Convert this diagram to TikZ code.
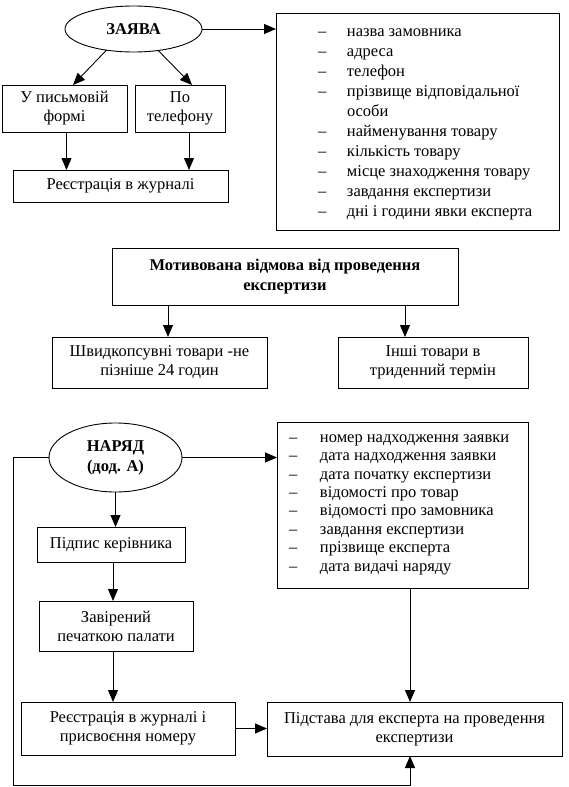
\documentclass[tikz,border=0pt]{standalone}
\usepackage{fontspec}
\setmainfont{Liberation Serif}
\usetikzlibrary{shapes.geometric,arrows.meta,calc}
\begin{document}
\begin{tikzpicture}[x=1pt,y=-1pt,
  every node/.style={inner sep=0pt, outer sep=0pt},
  bx/.style={draw, line width=0.9pt, rectangle, align=center, font=\fontsize{16.5}{19}\selectfont},
  el/.style={draw, line width=0.9pt, ellipse, align=center, font=\fontsize{16.5}{20}\selectfont\bfseries},
  arr/.style={line width=0.9pt, -{Triangle[length=12pt,width=10pt]}},
  lst/.style={anchor=west, align=left},
  ]
\useasboundingbox (0,0) rectangle (568,787);

% ---- top block
\node[el, minimum width=137pt, minimum height=46pt] (zayava) at (133.5,29) {ЗАЯВА};
\node[bx, minimum width=125pt, minimum height=47pt] (pys) at (64.5,108.5) {У письмовій\\формі};
\node[bx, minimum width=90pt, minimum height=47pt] (tel) at (180,108.5) {По\\телефону};
\node[bx, minimum width=215pt, minimum height=32pt] (reg1) at (120.5,186) {Реєстрація в журналі};
\node[bx, minimum width=283pt, minimum height=217pt] (lst1) at (417.5,121.5) {};
\node[lst, font=\fontsize{16.5}{20}\selectfont] (lst1t) at (318,122) {%
\begin{tabular}{@{}p{29pt}@{}l@{}}
–& назва замовника\\
–& адреса\\
–& телефон\\
–& прізвище відповідальної\\
 & особи\\
–& найменування товару\\
–& кількість товару\\
–& місце знаходження товару\\
–& завдання експертизи\\
–& дні і години явки експерта
\end{tabular}};

\coordinate (t1) at (73,85);
\coordinate (t2) at (192,85);
\coordinate (v1) at (66.5,0);
\coordinate (v2) at (189,0);
\draw[arr] (zayava.east) -- (zayava.east -| lst1.west);
\draw[arr] (zayava.218) -- (t1);
\draw[arr] (zayava.319) -- (t2);
\draw[arr] (pys.south -| v1) -- (reg1.north -| v1);
\draw[arr] (tel.south -| v2) -- (reg1.north -| v2);

% ---- middle block
\node[bx, font=\fontsize{16.5}{20}\selectfont\bfseries, minimum width=346pt, minimum height=57pt] (motiv) at (285,276.5) {Мотивована відмова від проведення\\експертизи};
\node[bx, minimum width=215pt, minimum height=51pt] (shv) at (159.5,362.5) {Швидкопсувні товари -не\\пізніше 24 годин};
\node[bx, minimum width=190pt, minimum height=51pt] (inshi) at (433,362.5) {Інші товари в\\триденний термін};
\coordinate (v3) at (168,0);
\coordinate (v4) at (405,0);
\draw[arr] (motiv.south -| v3) -- (shv.north -| v3);
\draw[arr] (motiv.south -| v4) -- (inshi.north -| v4);

% ---- bottom block
\node[el, minimum width=133pt, minimum height=69pt] (naryad) at (115.5,457.5) {НАРЯД\\(дод. А)};
\node[bx, minimum width=251pt, minimum height=166pt] (lst2) at (402.5,505) {};
\node[lst, font=\fontsize{16.5}{18.4}\selectfont] (lst2t) at (289,503) {%
\begin{tabular}{@{}p{31pt}@{}l@{}}
–& номер надходження заявки\\
–& дата надходження заявки\\
–& дата початку експертизи\\
–& відомості про товар\\
–& відомості про замовника\\
–& завдання експертизи\\
–& прізвище експерта\\
–& дата видачі наряду
\end{tabular}};
\node[bx, minimum width=148pt, minimum height=35pt] (pidpys) at (111,544.5) {Підпис керівника};
\node[bx, minimum width=154pt, minimum height=50pt] (zavir) at (116,626) {Завірений\\печаткою палати};
\node[bx, minimum width=214pt, minimum height=53pt] (reg2) at (128,728.5) {Реєстрація в журналі і\\присвоєння номеру};
\node[bx, minimum width=295pt, minimum height=54pt] (pidst) at (414.5,729) {Підстава для експерта на проведення\\експертизи};

\coordinate (v5) at (115.5,0);
\coordinate (v6) at (113,0);
\coordinate (v7) at (410,0);
\coordinate (lc) at (13,785);
\draw[arr] (naryad.east) -- (naryad.east -| lst2.west);
\draw[arr] (naryad.south) -- (pidpys.north -| v5);
\draw[arr] (pidpys.south -| v6) -- (zavir.north -| v6);
\draw[arr] (zavir.south -| v6) -- (reg2.north -| v6);
\draw[arr] (reg2.east) -- (reg2.east -| pidst.west);
\draw[arr] (lst2.south -| v7) -- (pidst.north -| v7);
\draw[arr] (naryad.west) -| (lc) -| (pidst.south -| v7);
\end{tikzpicture}
\end{document}
